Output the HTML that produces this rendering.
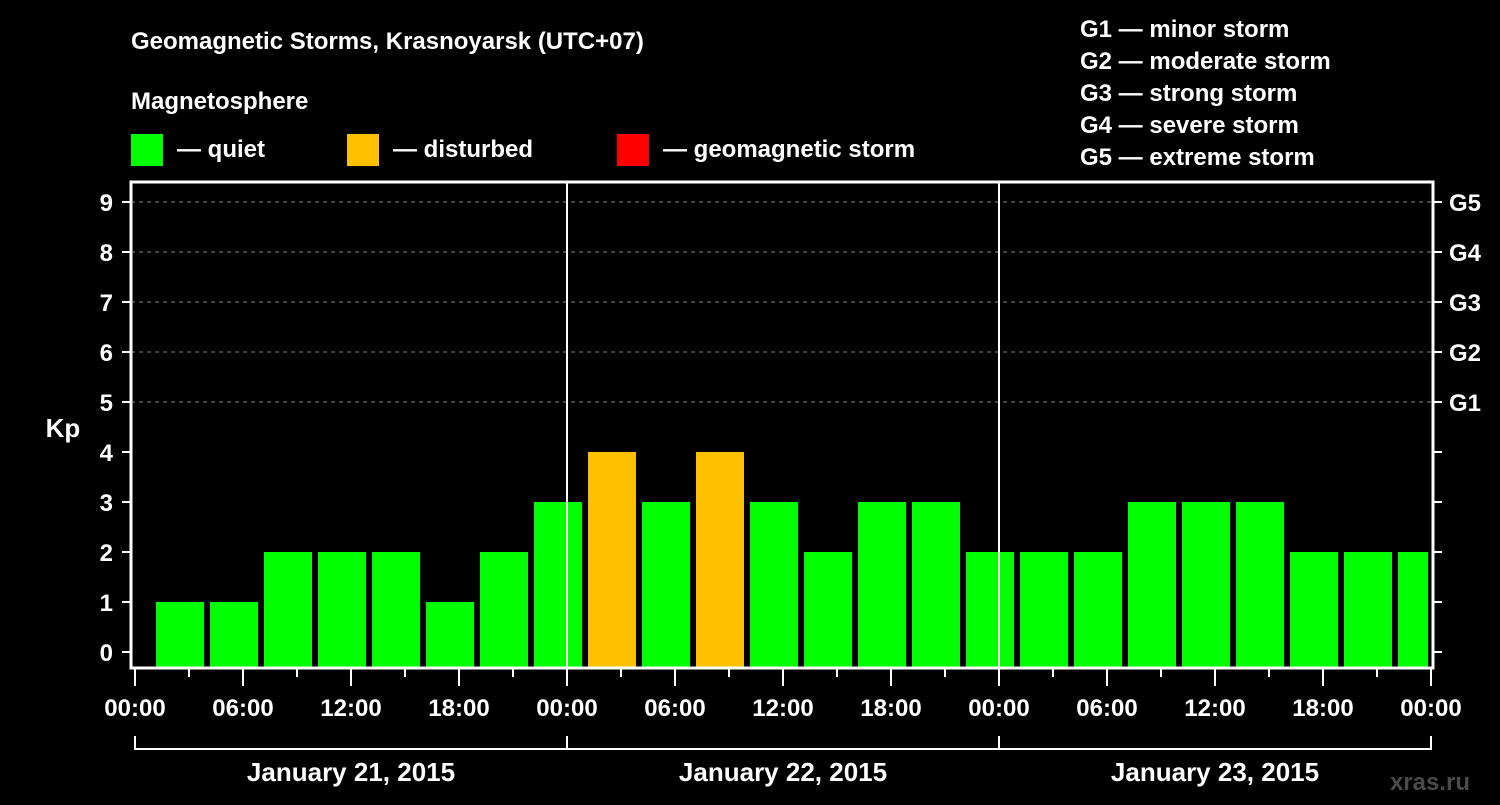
<!DOCTYPE html>
<html><head><meta charset="utf-8"><style>
html,body{margin:0;padding:0;background:#000;}
svg text{font-family:"Liberation Sans",Arial,sans-serif;font-weight:bold;fill:#fff;}
</style></head><body>
<svg id="c" width="1500" height="800" xmlns="http://www.w3.org/2000/svg">
<rect width="1500" height="800" fill="#000"/>
<text x="131" y="49" font-size="24">Geomagnetic Storms, Krasnoyarsk (UTC+07)</text>
<text x="131" y="109" font-size="24">Magnetosphere</text>
<g><rect x="131" y="134" width="32" height="32" fill="#00ff00"/><text x="177" y="157" font-size="24">— quiet</text></g>
<g><rect x="347" y="134" width="32" height="32" fill="#ffc000"/><text x="393" y="157" font-size="24">— disturbed</text></g>
<g><rect x="617" y="134" width="32" height="32" fill="#ff0000"/><text x="663" y="157" font-size="24">— geomagnetic storm</text></g>
<g font-size="24">
<text x="1080" y="37">G1 — minor storm</text>
<text x="1080" y="69">G2 — moderate storm</text>
<text x="1080" y="101">G3 — strong storm</text>
<text x="1080" y="133">G4 — severe storm</text>
<text x="1080" y="165">G5 — extreme storm</text>
</g>
<text x="63" y="437" font-size="26" text-anchor="middle">Kp</text>
<text x="1470" y="790" font-size="24" text-anchor="end" fill="#555" style="fill:#4a4a4a">xras.ru</text>
<g id="plot"></g>
</svg>
<script>
const kpValues=[1,1,2,2,2,1,2,3, 4,3,4,3,2,3,3,2, 2,2,3,3,3,2,2,2];
const yTicks=[0,1,2,3,4,5,6,7,8,9];
const gLabels=["G1","G2","G3","G4","G5"];
const hourLabels=["00:00","06:00","12:00","18:00"];
const dayLabels=["January 21, 2015","January 22, 2015","January 23, 2015"];
const NS="http://www.w3.org/2000/svg";
const L=131,R=1433,T=182,B=668;
const x0=135,pxH=18;
const X=h=>x0+h*pxH;
const Y=v=>652-v*50;
const g=document.getElementById('plot');
function mk(t,a){const e=document.createElementNS(NS,t);for(const k in a)e.setAttribute(k,a[k]);g.appendChild(e);return e;}
// clip
const defs=mk('defs',{});
const cp=document.createElementNS(NS,'clipPath');cp.setAttribute('id','pc');defs.appendChild(cp);
const cr=document.createElementNS(NS,'rect');cr.setAttribute('x',L);cr.setAttribute('y',T);cr.setAttribute('width',1428-L);cr.setAttribute('height',B-T);cp.appendChild(cr);
// grid
for(let v=5;v<=9;v++){
 const l=mk('line',{x1:L,x2:R,y1:Y(v),y2:Y(v),stroke:'#888','stroke-width':1,'stroke-dasharray':'4,4'});
 
 
}
// bars
kpValues.forEach((v,i)=>{
 const col=v>=5?'#ff0000':(v>=4?'#ffc000':'#00ff00');
 const r=mk('rect',{x:X(3*i)+21,y:Y(v),width:48,height:B-Y(v),fill:col,'clip-path':'url(#pc)'});
 
 
});
// day separators
[1,2].forEach(d=>{
 const l=mk('line',{x1:X(24*d),x2:X(24*d),y1:T,y2:B,stroke:'#fff','stroke-width':2});
 
 
});
// frame
const fr=mk('rect',{x:L,y:T,width:R-L,height:B-T,fill:'none',stroke:'#fff','stroke-width':3});


// y ticks
yTicks.forEach(v=>{
 mk('line',{x1:122,x2:L,y1:Y(v),y2:Y(v),stroke:'#fff','stroke-width':2});
 mk('line',{x1:R,x2:1442,y1:Y(v),y2:Y(v),stroke:'#fff','stroke-width':2});
 const t=mk('text',{x:113,y:Y(v)+9,'font-size':24,'text-anchor':'end'});t.textContent=v;
 
 
});
gLabels.forEach((s,i)=>{
 const t=mk('text',{x:1449,y:Y(5+i)+9,'font-size':24});t.textContent=s;
 
 
});
// x ticks
for(let h=0;h<=72;h+=3){
 const major=h%6===0;
 mk('line',{x1:X(h),x2:X(h),y1:B,y2:major?686:677,stroke:'#fff','stroke-width':2});
 if(major&&h%6===0){
  const t=mk('text',{x:X(h),y:716,'font-size':24,'text-anchor':'middle'});
  t.textContent=hourLabels[(h/6)%4];
  
  
 }
}
// day brackets
mk('line',{x1:X(0),x2:X(72),y1:749,y2:749,stroke:'#fff','stroke-width':2});
for(let d=0;d<=3;d++)mk('line',{x1:X(24*d),x2:X(24*d),y1:736,y2:750,stroke:'#fff','stroke-width':2});
dayLabels.forEach((s,d)=>{
 const t=mk('text',{x:X(24*d+12),y:781,'font-size':26,'text-anchor':'middle'});t.textContent=s;
 
 
});
</script>
</body></html>
